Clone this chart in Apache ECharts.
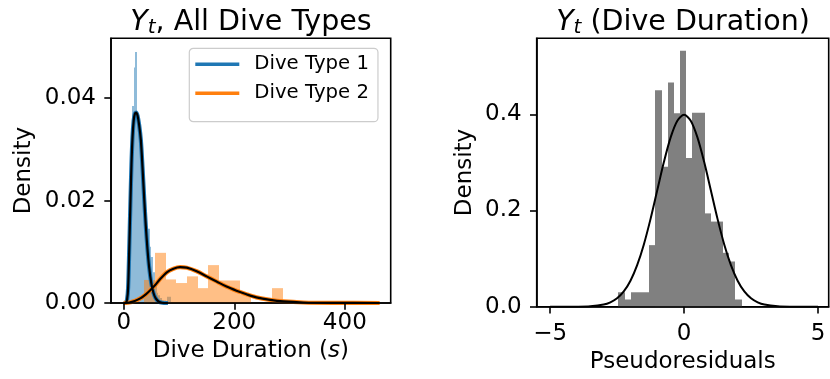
<!DOCTYPE html>
<html>
<head>
<meta charset="utf-8">
<script src="https://cdn.jsdelivr.net/npm/echarts@6/dist/echarts.min.js"></script>
<style>
  html, body { margin: 0; padding: 0; background: #ffffff; }
  #chart { width: 830px; height: 379px; }
</style>
</head>
<body>
<div id="chart"></div>
<script>
// ---- Dive type 1: histogram of durations (s) ----
const type1Edges = [5.2, 8.4, 11.6, 14.8, 18.0, 21.2, 24.4, 27.6, 30.8, 34.0, 37.2, 40.4, 43.6,
                    46.8, 50.0, 53.2, 56.4, 59.6, 62.8, 66.0, 69.2, 72.4, 75.6, 78.8, 82.0, 85.2];
const type1Density = [0.001, 0.006, 0.018, 0.0385, 0.046, 0.049, 0.037, 0.033, 0.029, 0.024, 0.019, 0.0145,
                      0.0145, 0.011, 0.009, 0.006, 0.004, 0.002, 0.0015, 0.001, 0.0005, 0.0005, 0, 0.0012, 0.0012];

// ---- Dive type 2: histogram of durations (s) ----
const type2Edges = [37.6, 56.9, 76.1, 95.4, 114.6, 133.9, 153.1, 172.4, 191.6, 210.9, 230.1, 249.4, 268.6, 287.9];
const type2Density = [0.0045, 0.0098, 0.0046, 0.0039, 0.0052, 0.0029, 0.0074, 0.0044, 0.0044, 0.0016, 0, 0, 0.0029];

// ---- Fitted densities per dive type ----
const type1CurveX = [0, 4, 6, 8, 10, 12, 14, 16, 18, 20, 22.5, 25, 28, 31, 34, 37, 40, 43, 46, 50, 54, 58, 63, 70, 80];
const type1CurveY = [0, 0.0001, 0.0006, 0.003, 0.0105, 0.019, 0.027, 0.0325, 0.0356, 0.0369, 0.0372, 0.0366, 0.0347,
                     0.0318, 0.0265, 0.0205, 0.015, 0.0105, 0.007, 0.0038, 0.0019, 0.0009, 0.0003, 0.00005, 0];
const type2CurveX = [0, 10, 20, 30, 40, 48, 57, 66, 78, 90, 102, 114, 132, 150, 168, 186, 204, 222, 240, 265, 289, 325, 380, 463];
const type2CurveY = [0, 0.0001, 0.0004, 0.0009, 0.0017, 0.0025, 0.0035, 0.0047, 0.006, 0.0067, 0.0070, 0.0069, 0.0062,
                     0.0052, 0.0042, 0.0032, 0.0024, 0.0017, 0.0011, 0.0006, 0.0003, 0.0001, 0.00002, 0];

// ---- Pseudoresiduals: histogram and standard normal reference ----
const residEdges = [-2.45, -2.22, -1.99, -1.76, -1.53, -1.30, -1.07, -0.84, -0.61, -0.38, -0.15,
                    0.08, 0.31, 0.54, 0.77, 1.00, 1.23, 1.46, 1.69, 1.92, 2.15];
const residDensity = [0.030, 0.015, 0.030, 0.030, 0.030, 0.128, 0.450, 0.291, 0.466, 0.402,
                      0.532, 0.309, 0.403, 0.403, 0.194, 0.177, 0.177, 0.112, 0.094, 0.015];
const normalX = [-5, -4.5, -4, -3.5, -3, -2.75, -2.5, -2.25, -2, -1.75, -1.5, -1.25, -1, -0.75, -0.5, -0.25, 0,
                 0.25, 0.5, 0.75, 1, 1.25, 1.5, 1.75, 2, 2.25, 2.5, 2.75, 3, 3.5, 4, 4.5, 5];
const normalY = [0, 0, 0.0001, 0.0009, 0.0044, 0.0091, 0.0175, 0.0317, 0.054, 0.0863, 0.1295, 0.1826, 0.242, 0.3011,
                 0.352, 0.3867, 0.3989, 0.3867, 0.352, 0.3011, 0.242, 0.1826, 0.1295, 0.0863, 0.054, 0.0317, 0.0175,
                 0.0091, 0.0044, 0.0009, 0.0001, 0, 0];

// ---- Axis ticks ----
const leftXTicks = [0, 200, 400];
const leftYTicks = [0, 0.02, 0.04];
const rightXTicks = [-5, 0, 5];
const rightYTicks = [0, 0.2, 0.4];

const FONT = 'DejaVu Sans';
const INK = '#000000';
const BLUE = '#1f77b4';
const ORANGE = '#ff7f0e';

function binRows(edges, dens) {
  return dens.map((d, i) => [edges[i], edges[i + 1], d]);
}
function pairs(xs, ys) {
  return xs.map((x, i) => [x, ys[i]]);
}
// Bars snapped to whole pixels so neighbouring bins join without seams
function histRenderer(fill) {
  return function (params, api) {
    const top = api.coord([api.value(0), api.value(2)]);
    const bottom = api.coord([api.value(1), 0]);
    const x0 = Math.round(top[0]);
    const x1 = Math.round(bottom[0]);
    return {
      type: 'rect',
      shape: { x: x0, y: top[1], width: x1 - x0, height: bottom[1] - top[1] },
      style: { fill: fill }
    };
  };
}

const tickFont = { fontFamily: FONT, fontSize: 23, color: INK };
const nameFont = { fontFamily: FONT, fontSize: 23, color: INK };
const spine = { color: INK, width: 1.6 };

function valueAxis(extra) {
  return Object.assign({
    type: 'value',
    splitLine: { show: false },
    axisLine: { show: true, onZero: false, lineStyle: spine },
    z: 10
  }, extra);
}

function titleRich() {
  return {
    v: { fontFamily: FONT, fontStyle: 'italic', fontSize: 28.5, lineHeight: 35, verticalAlign: 'bottom', fill: INK, color: INK },
    s: { fontFamily: FONT, fontStyle: 'italic', fontSize: 20, lineHeight: 17, verticalAlign: 'bottom', fill: INK, color: INK },
    n: { fontFamily: FONT, fontSize: 28.5, lineHeight: 35, verticalAlign: 'bottom', fill: INK, color: INK }
  };
}

const chart = echarts.init(document.getElementById('chart'), null, { renderer: 'canvas' });

chart.setOption({
  animation: false,
  backgroundColor: '#ffffff',
  grid: [
    { left: 111, top: 38.3, width: 279.7, height: 264.7, show: true, borderColor: INK, borderWidth: 1.6, backgroundColor: 'transparent' },
    { left: 536.7, top: 38.3, width: 292, height: 268.4, show: true, borderColor: INK, borderWidth: 1.6, backgroundColor: 'transparent' }
  ],
  xAxis: [
    valueAxis({
      gridIndex: 0, min: -23, max: 483,
      axisTick: { show: true, length: 6.7, lineStyle: spine, customValues: leftXTicks },
      axisLabel: Object.assign({ customValues: leftXTicks, margin: 9, formatter: v => String(v) }, tickFont),
      name: 'Dive Duration ({i|s})', nameLocation: 'middle', nameGap: 29,
      nameTextStyle: Object.assign({ rich: { i: { fontFamily: FONT, fontSize: 23, fontStyle: 'italic', color: INK } } }, nameFont)
    }),
    valueAxis({
      gridIndex: 1, min: -5.5, max: 5.4,
      axisTick: { show: true, length: 6.7, lineStyle: spine, customValues: rightXTicks },
      axisLabel: Object.assign({ customValues: rightXTicks, margin: 16,
        formatter: v => (v < 0 ? '\u2212' + Math.abs(v) : String(v)) }, tickFont),
      name: 'Pseudoresiduals', nameLocation: 'middle', nameGap: 43,
      nameTextStyle: nameFont
    })
  ],
  yAxis: [
    valueAxis({
      gridIndex: 0, min: 0, max: 0.0517,
      axisTick: { show: true, length: 6.7, lineStyle: spine, customValues: leftYTicks },
      axisLabel: Object.assign({ customValues: leftYTicks, margin: 15, formatter: v => v.toFixed(2) }, tickFont),
      name: 'Density', nameLocation: 'middle', nameGap: 75, nameTextStyle: nameFont
    }),
    valueAxis({
      gridIndex: 1, min: 0, max: 0.558,
      axisTick: { show: true, length: 6.7, lineStyle: spine, customValues: rightYTicks },
      axisLabel: Object.assign({ customValues: rightYTicks, margin: 15, formatter: v => v.toFixed(1) }, tickFont),
      name: 'Density', nameLocation: 'middle', nameGap: 60, nameTextStyle: nameFont
    })
  ],
  legend: {
    data: ['Dive Type 1', 'Dive Type 2'],
    orient: 'vertical',
    left: 189.3, top: 48.3,
    padding: [6, 9, 18.4, 6],
    itemWidth: 44, itemHeight: 3.4, itemGap: 9,
    icon: 'rect',
    backgroundColor: 'rgba(255,255,255,0.8)',
    borderColor: '#cccccc', borderWidth: 1.2, borderRadius: 4,
    textStyle: { fontFamily: FONT, fontSize: 19.7, lineHeight: 20, color: INK, padding: [0, 0, 0, 10] },
    z: 20
  },
  graphic: [
    {
      type: 'text', x: 251, y: 20, z: 20,
      style: {
        text: '{v|Y}{s|t}{n|, All Dive Types}',
        align: 'center', verticalAlign: 'middle', textAlign: 'center', textVerticalAlign: 'middle',
        rich: titleRich()
      }
    },
    {
      type: 'text', x: 683, y: 20, z: 20,
      style: {
        text: '{v|Y}{s|t}{n| (Dive Duration)}',
        align: 'center', verticalAlign: 'middle', textAlign: 'center', textVerticalAlign: 'middle',
        rich: titleRich()
      }
    }
  ],
  series: [
    {
      name: 'hist1', type: 'custom', xAxisIndex: 0, yAxisIndex: 0, z: 2,
      renderItem: histRenderer('rgba(31,119,180,0.5)'),
      encode: { x: [0, 1], y: 2 },
      data: binRows(type1Edges, type1Density)
    },
    {
      name: 'hist2', type: 'custom', xAxisIndex: 0, yAxisIndex: 0, z: 2,
      renderItem: histRenderer('rgba(255,127,14,0.5)'),
      encode: { x: [0, 1], y: 2 },
      data: binRows(type2Edges, type2Density)
    },
    {
      name: 'Dive Type 1', type: 'line', xAxisIndex: 0, yAxisIndex: 0, z: 3,
      color: BLUE, showSymbol: false, symbol: 'none', smooth: 0.3,
      lineStyle: { color: BLUE, width: 4.2 },
      data: pairs(type1CurveX, type1CurveY)
    },
    {
      name: 'Dive Type 2', type: 'line', xAxisIndex: 0, yAxisIndex: 0, z: 3,
      color: ORANGE, showSymbol: false, symbol: 'none', smooth: 0.3,
      lineStyle: { color: ORANGE, width: 4.2 },
      data: pairs(type2CurveX, type2CurveY)
    },
    {
      name: 'fit1', type: 'line', xAxisIndex: 0, yAxisIndex: 0, z: 4,
      showSymbol: false, symbol: 'none', smooth: 0.3,
      lineStyle: { color: INK, width: 2.2 },
      data: pairs(type1CurveX, type1CurveY)
    },
    {
      name: 'fit2', type: 'line', xAxisIndex: 0, yAxisIndex: 0, z: 4,
      showSymbol: false, symbol: 'none', smooth: 0.3,
      lineStyle: { color: INK, width: 2.2 },
      data: pairs(type2CurveX, type2CurveY)
    },
    {
      name: 'residHist', type: 'custom', xAxisIndex: 1, yAxisIndex: 1, z: 2,
      renderItem: histRenderer('#808080'),
      encode: { x: [0, 1], y: 2 },
      data: binRows(residEdges, residDensity)
    },
    {
      name: 'normal', type: 'line', xAxisIndex: 1, yAxisIndex: 1, z: 4,
      showSymbol: false, symbol: 'none', smooth: 0.3,
      lineStyle: { color: INK, width: 2 },
      data: pairs(normalX, normalY)
    }
  ]
});
</script>
</body>
</html>
